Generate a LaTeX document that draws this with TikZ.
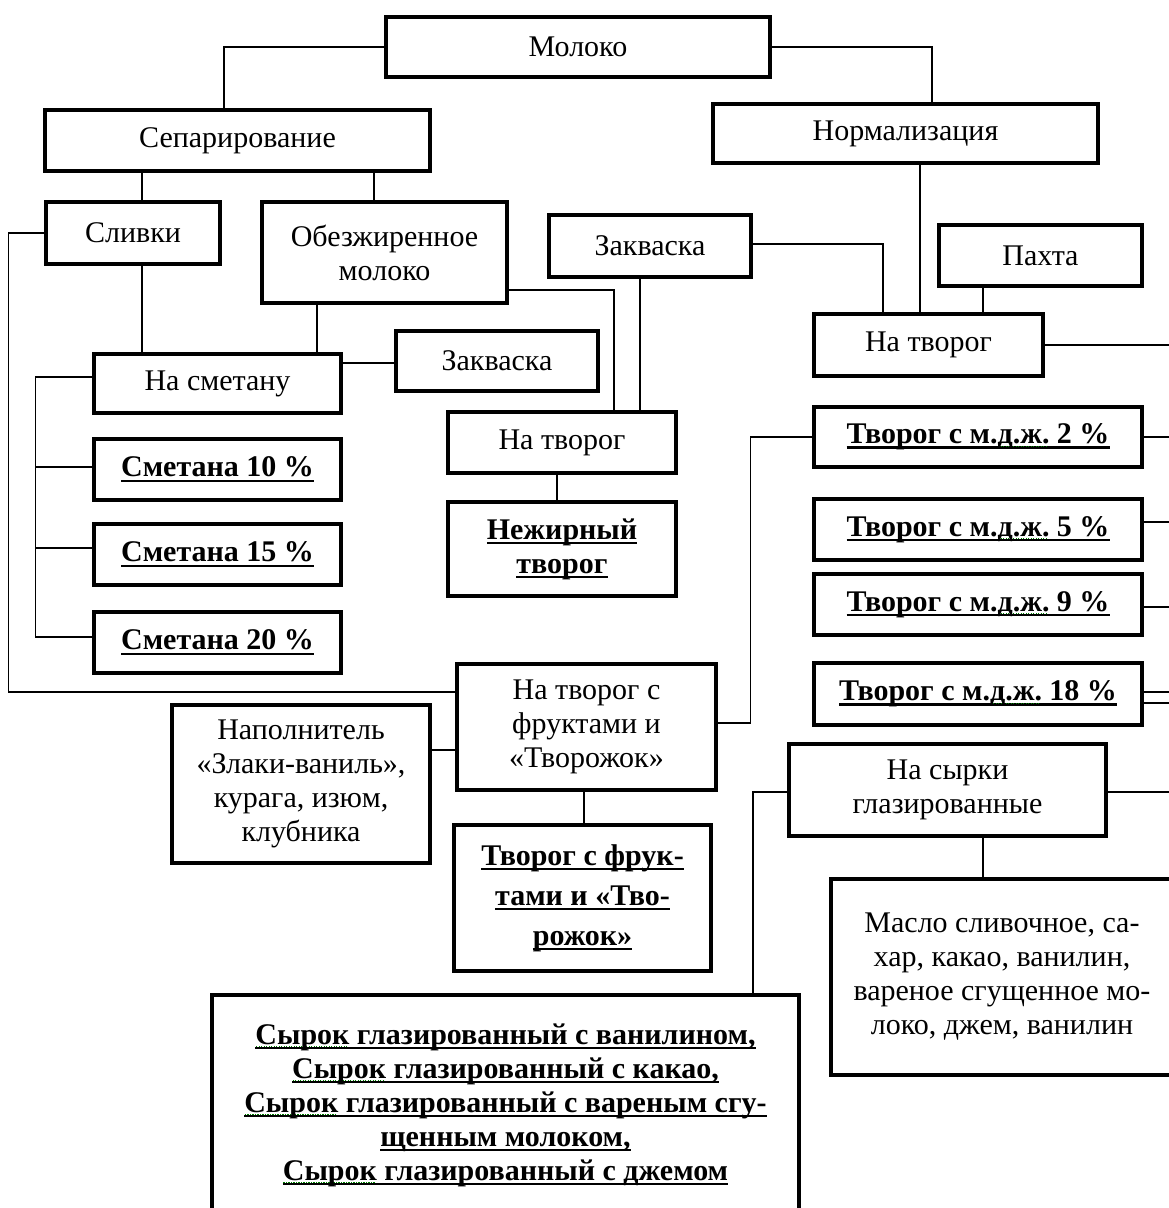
\documentclass[tikz,border=0pt]{standalone}
\usepackage{fontspec}
\setmainfont{Liberation Serif}
\usepackage{tikz}

\newcommand{\undr}[1]{\setbox0\hbox{#1}\rlap{\rule[-5pt]{\wd0}{2.4pt}}\box0\relax}
\newcommand{\spell}[1]{\setbox0\hbox{#1}\rlap{\raisebox{-3pt}{\color{green!50!black}\leaders\hbox to 2.5pt{\hss\rule{1.2pt}{1.2pt}\hss}\hskip\wd0}}\box0\relax}

\tikzset{
    prodfont/.style={font=\fontsize{30}{34}\selectfont\bfseries},
}

\begin{document}
\begin{tikzpicture}[x=1pt,y=-1pt]
    \useasboundingbox (0,0) rectangle (1169,1208);
    \clip (0,0) rectangle (1169,1208);
    \begin{scope}[every node/.style={draw,line width=4pt,align=center,inner sep=2pt,font=\fontsize{30}{34}\selectfont}]
    \node[minimum width=384.5pt,minimum height=60.5pt] (moloko) at (578,47) {Молоко};
    \node[minimum width=385.5pt,minimum height=61.5pt] (separ) at (237.5,140.5) {Сепарирование};
    \node[minimum width=385.5pt,minimum height=59.5pt] (normal) at (905.5,133.5) {Нормализация};
    \node[minimum width=174.5pt,minimum height=62.5pt] (slivki) at (133,233) {Сливки};
    \node[minimum width=245.5pt,minimum height=101.5pt] (obezh) at (384.5,252.5) {Обезжиренное\\молоко};
    \node[minimum width=202.5pt,minimum height=61.5pt] (zakv1) at (650,246) {Закваска};
    \node[minimum width=203.5pt,minimum height=61.5pt] (pakhta) at (1040.5,255.5) {Пахта};
    \node[minimum width=229.5pt,minimum height=62.5pt] (natvorog2) at (928.5,345) {На творог};
    \node[minimum width=247.5pt,minimum height=59.5pt] (nasmetanu) at (217.5,383.5) {На сметану};
    \node[minimum width=202.5pt,minimum height=60.5pt] (zakv2) at (497,361) {Закваска};
    \node[minimum width=228.5pt,minimum height=61.5pt] (natvorog1) at (562,442.5) {На творог};
    \node[prodfont,minimum width=228.5pt,minimum height=94.5pt] (nezhir) at (562,549) {\undr{Нежирный}\\\undr{творог}};
    \node[prodfont,minimum width=247.5pt,minimum height=61.5pt] (smet10) at (217.5,469.5) {\undr{Сметана 10 \%}};
    \node[prodfont,minimum width=247.5pt,minimum height=61.5pt] (smet15) at (217.5,554.5) {\undr{Сметана 15 \%}};
    \node[prodfont,minimum width=247.5pt,minimum height=61.5pt] (smet20) at (217.5,642.5) {\undr{Сметана 20 \%}};
    \node[minimum width=259.5pt,minimum height=126.5pt] (nafrukt) at (586.5,727) {На творог с\\фруктами и\\«Творожок»};
    \node[minimum width=258.5pt,minimum height=158.5pt] (napoln) at (301,784) {Наполнитель\\«Злаки-ваниль»,\\курага, изюм,\\клубника};
    \node[font=\fontsize{30}{40}\selectfont\bfseries,minimum width=257.5pt,minimum height=146.5pt] (tvfrukt) at (582.5,898) {\undr{Творог с фрук-}\\\undr{тами и «Тво-}\\\undr{рожок»}};
    \node[prodfont,minimum width=328.5pt,minimum height=60.5pt] (tv2) at (978,437) {\undr{Творог с м.\spell{д.ж.} 2 \%}};
    \node[prodfont,minimum width=328.5pt,minimum height=60.5pt] (tv5) at (978,529.5) {\undr{Творог с м.\spell{д.ж.} 5 \%}};
    \node[prodfont,minimum width=328.5pt,minimum height=60.5pt] (tv9) at (978,604.5) {\undr{Творог с м.\spell{д.ж.} 9 \%}};
    \node[prodfont,minimum width=328.5pt,minimum height=61.5pt] (tv18) at (978,694) {\undr{Творог с м.\spell{д.ж.} 18 \%}};
    \node[minimum width=317.5pt,minimum height=92.5pt] (nasyrki) at (947.5,790) {На сырки\\глазированные};
    \node[minimum width=342pt,minimum height=196.5pt] (maslo) at (1002,977) {Масло сливочное, са-\\хар, какао, ванилин,\\вареное сгущенное мо-\\локо, джем, ванилин};
    \node[prodfont,minimum width=587.5pt,minimum height=220pt] (syrok) at (505.5,1105) {\undr{\spell{Сырок} глазированный с ванилином,}\\\undr{\spell{Сырок} глазированный с какао,}\\\undr{\spell{Сырок} глазированный с вареным сгу-}\\\undr{щенным молоком,}\\\undr{\spell{Сырок} глазированный с джемом}};
    \end{scope}
    \begin{scope}[line width=1.4pt,every edge/.style={draw=black,line width=1.4pt}]
    \draw (moloko.west) -| ([xshift=-13.5pt]separ.north);
    \draw (moloko.east) -| ([xshift=26.5pt]normal.north);
    \path ([xshift=-95.5pt]separ.south) edge ([xshift=9pt]slivki.north);
    \path ([xshift=136.5pt]separ.south) edge ([xshift=-10.5pt]obezh.north);
    \path ([xshift=9pt]slivki.south) edge ([xshift=-75.5pt]nasmetanu.north);
    \path ([xshift=-67.5pt]obezh.south) edge ([xshift=99.5pt]nasmetanu.north);
    \path ([yshift=20.5pt]nasmetanu.east) edge ([yshift=-2pt]zakv2.west);
    \draw (slivki.west) -- ++(-35,0) |- ([yshift=35pt]nafrukt.west);
    \draw ([yshift=6.5pt]nasmetanu.west) -- ++(-56,0) coordinate (sbus) |- ([yshift=5.5pt]smet20.west);
    \draw (sbus) |- ([yshift=2.5pt]smet10.west);
    \draw (sbus) |- ([yshift=6.5pt]smet15.west);
    \draw ([yshift=-37.5pt]obezh.east) -| ([xshift=52pt]natvorog1.north);
    \path ([xshift=-10pt]zakv1.south) edge ([xshift=78pt]natvorog1.north);
    \path ([xshift=-5pt]natvorog1.south) edge ([xshift=-5pt]nezhir.north);
    \draw ([yshift=2pt]zakv1.east) -| ([xshift=-45.5pt]natvorog2.north);
    \path ([xshift=14.5pt]normal.south) edge ([xshift=-8.5pt]natvorog2.north);
    \path ([xshift=-57.5pt]pakhta.south) edge ([xshift=54.5pt]natvorog2.north);
    \draw (natvorog2.east) -- ++(140,0);
    % творог: links to the right margin
    \draw (tv2.west) -- ++(-61,0) |- ([yshift=4pt]nafrukt.east);
    \draw (tv2.east) -- ++(40,0);
    \draw ([yshift=7.5pt]tv5.east) -- ++(40,0);
    \draw ([yshift=-2.5pt]tv9.east) -- ++(40,0);
    \draw ([yshift=2pt]tv18.east) -- ++(40,0);
    \draw ([yshift=-9pt]tv18.east) -- ++(40,0);
    \path ([yshift=34pt]napoln.east) edge ([yshift=-23pt]nafrukt.west);
    \path ([xshift=-2.5pt]nafrukt.south) edge ([xshift=1.5pt]tvfrukt.north);
    \draw ([yshift=-2pt]nasyrki.west) -| ([xshift=247.5pt]syrok.north);
    \draw ([yshift=-2pt]nasyrki.east) -- ++(80,0);
    \path ([xshift=35.5pt]nasyrki.south) edge ([xshift=-19pt]maslo.north);
    \end{scope}
\end{tikzpicture}
\end{document}
